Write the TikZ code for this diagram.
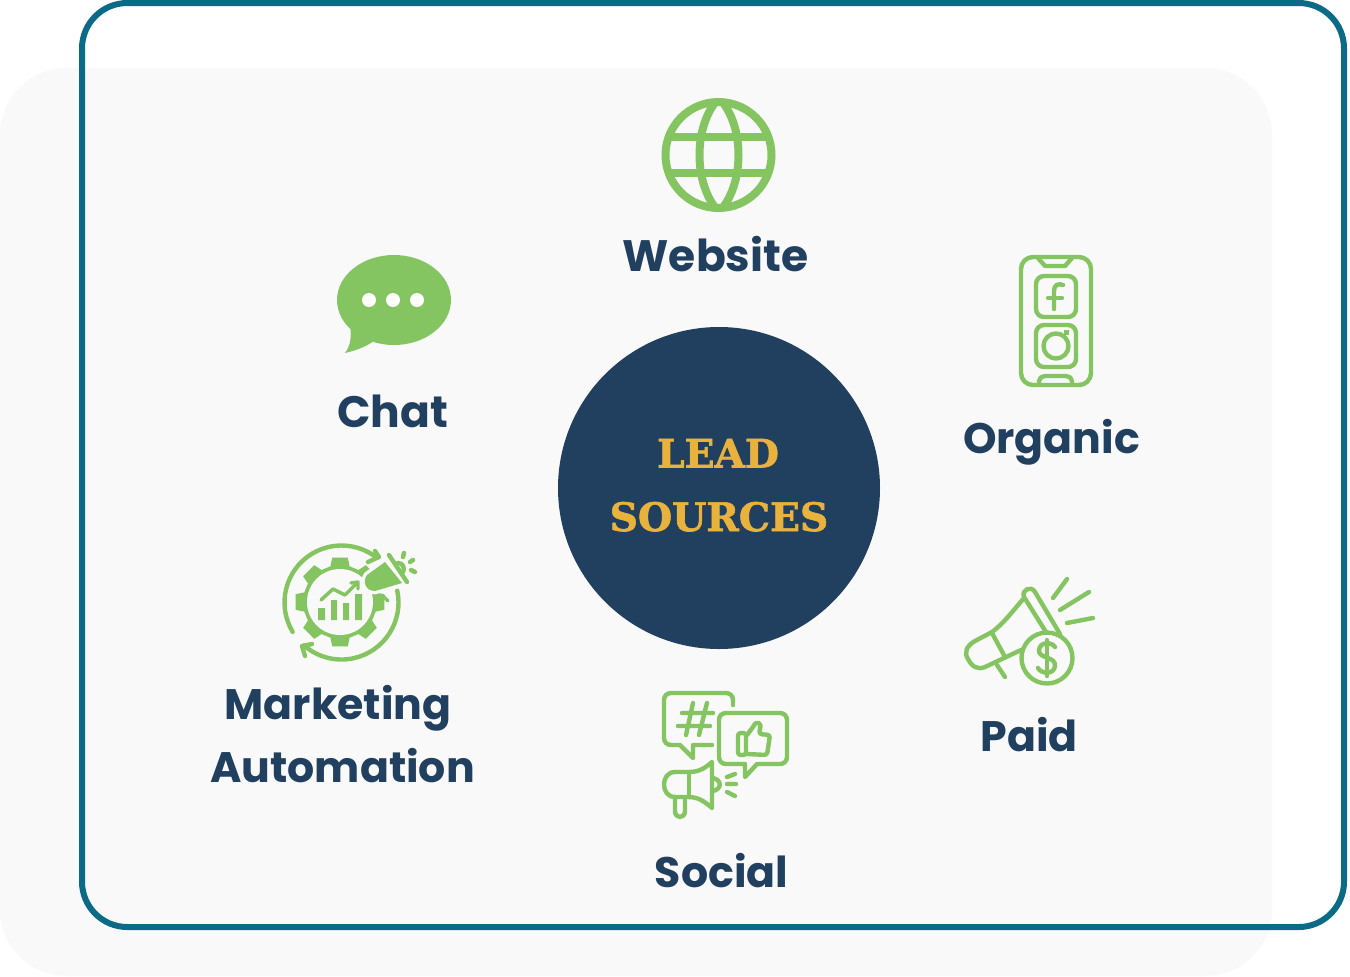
\documentclass[tikz,border=0pt]{standalone}
\usepackage{fontspec}
\newfontfamily\pop{Poppins}
\newfontfamily\slab[BoldFeatures={FakeBold=1.6}]{DejaVu Serif}
\definecolor{navy}{HTML}{21405F}
\definecolor{leaf}{HTML}{84C561}
\definecolor{gold}{HTML}{E8B23C}
\definecolor{teal}{HTML}{0B6A85}
\definecolor{panel}{HTML}{F9F9F9}
\tikzset{
  lbl/.style={anchor=base,inner sep=0pt,text=navy,font=\pop\bfseries\fontsize{32}{36}\selectfont},
  lblb/.style={lbl,font=\pop\bfseries\fontsize{33}{36}\selectfont},
  ctr/.style={anchor=base,inner sep=0pt,text=gold,font=\slab\bfseries\fontsize{29.4}{34}\selectfont},
  icon/.style={draw=leaf,line width=3.3pt,line cap=round,line join=round}
}
\begin{document}
\begin{tikzpicture}[x=0.75pt,y=-0.75pt]
\useasboundingbox (0,0) rectangle (1350,976);
\fill[white] (0,0) rectangle (1350,976);
\fill[panel,rounded corners=50pt] (0,68) rectangle (1272,976);
\draw[teal,line width=4.5pt,rounded corners=34pt] (82,3) rectangle (1344,927);
\fill[navy] (719,488) circle (161);
\node[ctr] (lead) at (718,467.5) {LEAD};
\node[ctr] (sources) at (719,531) {SOURCES};
% globe
\begin{scope}
\clip (718.5,155) circle (55);
\draw[leaf,line width=6pt] (663,137) -- (775,137) (663,173) -- (775,173);
\draw[leaf,line width=6pt] (719,98) .. controls (693,125) and (693,185) .. (719,212) .. controls (745,185) and (745,125) .. (719,98) -- cycle;
\end{scope}
\draw[leaf,line width=6pt] (718.5,155) circle (53);
\node[lblb] (website) at (715.5,271) {Website};
% chat
\fill[leaf] (394,300) ellipse [x radius=57,y radius=45];
\fill[leaf] (350,325) .. controls (352,338) and (350,346) .. (345,353) .. controls (358,350) and (368,346) .. (378,338) -- cycle;
\fill[white] (369,300) circle (7) (393,300) circle (7) (417,300) circle (7);
\node[lblb] (chat) at (392.5,427) {Chat};
% phone
\draw[icon,rounded corners=9pt] (1021,257) rectangle (1091,385);
\draw[icon] (1038,258) -- (1045,266) -- (1065,266) -- (1072,258);
\draw[icon] (1039,384) -- (1039,381) .. controls (1039,378) and (1042,376) .. (1045,376) -- (1066,376) .. controls (1069,376) and (1072,378) .. (1072,381) -- (1072,384);
\draw[icon,rounded corners=6pt] (1036,276) rectangle (1076,317);
\draw[icon,rounded corners=6pt] (1036,325) rectangle (1076,367);
\draw[icon] (1054,309) -- (1054,291) .. controls (1054,285) and (1058,283) .. (1063,285);
\draw[icon] (1048,298) -- (1062,298);
\draw[icon] (1056,346) circle (12.5);
\fill[leaf] (1064,330) rectangle (1069,335);
\node[lbl] (organic) at (1051.5,453) {Organic};
% paid megaphone
\draw[icon] (1024,598) .. controls (1012,612) and (1003,624) .. (992,632) -- (975,641) .. controls (966,646) and (964,653) .. (968,659) .. controls (972,667) and (978,670) .. (985,667) -- (1021,650);
\draw[icon] (1060,634) -- (1035,592) .. controls (1031,585) and (1021,590) .. (1024,597) -- (1046,632);
\draw[icon] (992,633) -- (1005,657);
\draw[icon] (997,665) -- (1005,677);
\draw[icon] (1047,658) circle (25.5);
\draw[icon] (1053,598) -- (1067,579) (1060,610) -- (1089,592) (1067,623) -- (1093,618);
\draw[icon] (1055,647) .. controls (1052,642) and (1040,641) .. (1039,650) .. controls (1038,659) and (1056,656) .. (1055,666) .. controls (1054,675) and (1041,674) .. (1038,668);
\draw[icon] (1047,640) -- (1047,676);
\node[lbl] (paid) at (1029,751) {Paid};
% social
\draw[icon] (733,705) -- (733,700) .. controls (733,696) and (730,693) .. (726,693) -- (671,693) .. controls (667,693) and (664,696) .. (664,700) -- (664,738) .. controls (664,742) and (667,745) .. (671,745) -- (680,745) -- (693,758) -- (693,745) -- (712,745);
\draw[icon] (693,703) -- (686,735) (707,703) -- (699,735) (682,713) -- (713,713) (678,726) -- (710,726);
\draw[icon] (745,764) -- (726,764) .. controls (722,764) and (719,761) .. (719,757) -- (719,720) .. controls (719,716) and (722,713) .. (726,713) -- (780,713) .. controls (784,713) and (787,716) .. (787,720) -- (787,757) .. controls (787,761) and (784,764) .. (780,764) -- (757,764) -- (745,777) -- cycle;
\draw[icon,rounded corners=2pt] (738,733) rectangle (746,755);
\draw[icon,rounded corners=2pt] (747,735) -- (753,727) -- (756,722) -- (761,724) -- (759,734) -- (770,735) -- (767,755) -- (747,754);
\draw[icon] (712,762) -- (712,808) .. controls (703,800) and (697,797) .. (688,797) -- (675,797) .. controls (660.3,797) and (660.3,772) .. (675,772) -- (688,772) .. controls (697,772) and (703,770) .. (712,762) -- cycle;
\draw[icon] (689,772) -- (689,797);
\draw[icon] (713,778) .. controls (722,780) and (722,789) .. (713,791);
\draw[icon] (675,797) -- (675,811) .. controls (675,819) and (685,819) .. (685,811) -- (685,798);
\draw[icon] (727,777) -- (735,774) (727,784) -- (736,784) (727,792) -- (735,796);
\node[lbl] (social) at (721.5,887) {Social};
% marketing automation
\draw[icon] (341.5,602.5) ++(149:57) arc (149:307:57);
\draw[icon] (341.5,602.5) ++(-12:57) arc (-12:131:57);
\draw[icon] (375,551) -- (379,557) -- (368,562);
\draw[icon] (312,644) -- (302,646) -- (305,656);
\begin{scope}[shift={(340,602)}]
\fill[leaf] (-10:45) -- (10:45) -- (15:37) -- (30:37) -- (35:45) -- (55:45) -- (60:37) -- (75:37) -- (80:45) -- (100:45) -- (105:37) -- (120:37) -- (125:45) -- (145:45) -- (150:37) -- (165:37) -- (170:45) -- (190:45) -- (195:37) -- (210:37) -- (215:45) -- (235:45) -- (240:37) -- (255:37) -- (260:45) -- (280:45) -- (285:37) -- (300:37) -- (305:45) -- (325:45) -- (330:37) -- (345:37) -- cycle;
\fill[panel] (0,0) circle (33);
\end{scope}
\fill[leaf] (318,608) rectangle (325,620) (331,600) rectangle (337,620) (343,603) rectangle (349,620) (355,594) rectangle (362,620);
\draw[icon,line width=2.6pt] (321,600) -- (333,589) -- (345,595) -- (357,583);
\draw[icon,line width=2.6pt] (351,583) -- (358,582) -- (358,589);
\draw[panel,line width=5pt,line join=round] (385,562) -- (402,583) -- (375,591) .. controls (366,591) and (362,582) .. (367,575) -- cycle;
\fill[leaf] (385,562) -- (402,583) -- (375,591) .. controls (366,591) and (362,582) .. (367,575) -- cycle;
\draw[icon] (389,555) -- (407,582);
\draw[icon] (398,563) .. controls (403,563) and (405,568) .. (403,572);
\draw[icon,line width=2.6pt] (383,596) -- (388,601);
\draw[leaf,line width=3.4pt,line cap=round] (404,553) -- (403,557) (413,560) -- (410,562) (411,570) -- (415,572);
\node[lbl] (marketing) at (338,719) {Marketing};
\node[lbl] (automation) at (342.5,782) {Automation};
\end{tikzpicture}
\end{document}
